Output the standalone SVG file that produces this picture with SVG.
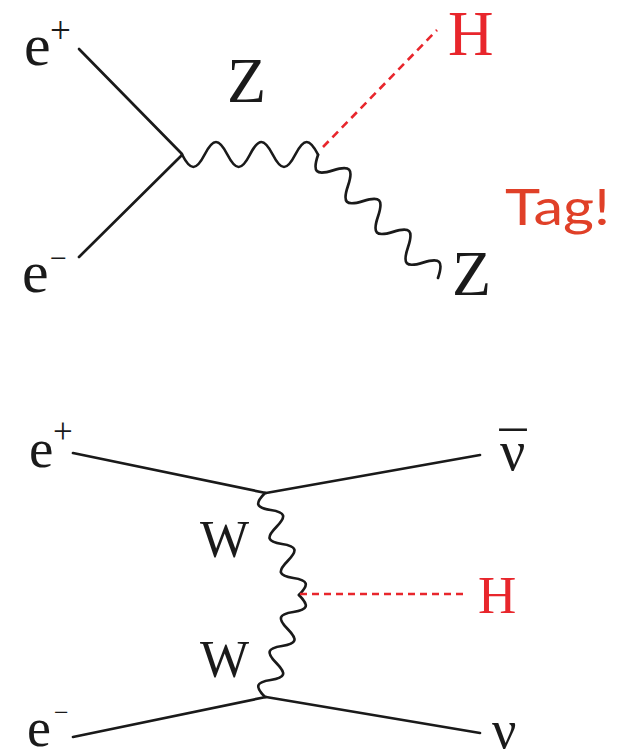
<svg xmlns="http://www.w3.org/2000/svg" width="621" height="752" viewBox="0 0 621 752">
<style>
.ln{fill:none;stroke:#1a1a1a;stroke-width:2.7;stroke-linecap:round;stroke-linejoin:round}
.hd{fill:none;stroke:#e8262c;stroke-width:2.6}
.t{font-family:"Liberation Serif","Times New Roman",serif;fill:#1a1a1a}
.r{fill:#e8262c}
.tag{font-family:Lato,"Open Sans","Liberation Sans",sans-serif;fill:#e04028}
</style>
<defs>
<path id="wW" d="M0,0 C6.81,13.33 11.11,13.33 17.920,0 C24.73,-13.33 29.03,-13.33 35.83,0 C42.64,13.33 46.94,13.33 53.75,0 C60.56,-13.33 64.86,-13.33 71.67,0 C78.48,13.33 82.78,13.33 89.58,0 C96.39,-13.33 100.69,-13.33 107.5,0"/>
</defs>
<rect width="621" height="752" fill="#ffffff"/>
<g id="connectors">
<line class="ln" x1="79" y1="49" x2="182" y2="154"/>
<line class="ln" x1="182" y1="155" x2="79" y2="257"/>
<path class="ln" transform="translate(182,154.5)" d="M0,0 C8.61,16.67 14.05,16.67 22.67,0 C31.28,-16.67 36.72,-16.67 45.33,0 C53.95,16.67 59.39,16.67 68,0 C76.61,-16.67 82.05,-16.67 90.67,0 C99.28,16.67 104.72,16.67 113.33,0 C121.95,-16.67 127.39,-16.67 136,0"/>
<path class="ln" transform="translate(318,155) rotate(45.7)" d="M0,0 C8.16,16 13.32,16 21.48,0 C29.64,-16 34.8,-16 42.95,0 C51.11,16 56.27,16 64.43,0 C72.59,-16 77.75,-16 85.9,0 C94.06,16 99.22,16 107.38,0 C115.54,-16 120.7,-16 128.85,0 C137.01,16 142.17,16 150.33,0 C158.49,-16 163.65,-16 171.8,0"/>
<line class="hd" x1="323" y1="147" x2="437" y2="30" stroke-dasharray="8 5.5"/>
<line class="ln" x1="73" y1="453" x2="266" y2="493"/>
<line class="ln" x1="266" y1="493" x2="480" y2="455"/>
<line class="ln" x1="73" y1="737" x2="266" y2="697"/>
<line class="ln" x1="266" y1="697" x2="480" y2="733"/>
<use href="#wW" class="ln" transform="translate(265,493) rotate(71.57)"/>
<use href="#wW" class="ln" transform="translate(265,697) scale(1,-1) rotate(71.57)"/>
<line class="hd" x1="300" y1="594" x2="468" y2="594" stroke-dasharray="7 5"/>
</g>
<g id="top-eplus"><text class="t" x="24" y="65" font-size="60">e</text><text class="t" x="50" y="43" font-size="37">+</text></g>
<g id="top-eminus"><text class="t" x="22" y="292" font-size="60">e</text><text class="t" x="50" y="268" font-size="30">−</text></g>
<g id="top-Z"><text class="t" x="227" y="102" font-size="64">Z</text></g>
<g id="top-H"><text class="t r" x="448" y="55" font-size="63">H</text></g>
<g id="top-Zout"><text class="t" x="452" y="295" font-size="64">Z</text></g>
<g id="tag"><text class="tag" x="505" y="225" font-size="50" textLength="105" lengthAdjust="spacingAndGlyphs">Tag!</text></g>
<g id="bot-eplus"><text class="t" x="29" y="467" font-size="55">e</text><text class="t" x="53" y="443" font-size="35">+</text></g>
<g id="bot-eminus"><text class="t" x="27" y="746" font-size="54">e</text><text class="t" x="54" y="721" font-size="26">−</text></g>
<g id="bot-W1"><text class="t" x="200" y="557" font-size="52">W</text></g>
<g id="bot-W2"><text class="t" x="200" y="677" font-size="52">W</text></g>
<g id="bot-nubar"><text class="t" y="470"><tspan x="500" font-size="56">ν</tspan><tspan x="513" y="470" font-size="54" text-anchor="middle">¯</tspan></text></g>
<g id="bot-H"><text class="t r" x="478" y="613" font-size="53">H</text></g>
<g id="bot-nu"><text class="t" x="492" y="748" font-size="54">ν</text></g>
</svg>
